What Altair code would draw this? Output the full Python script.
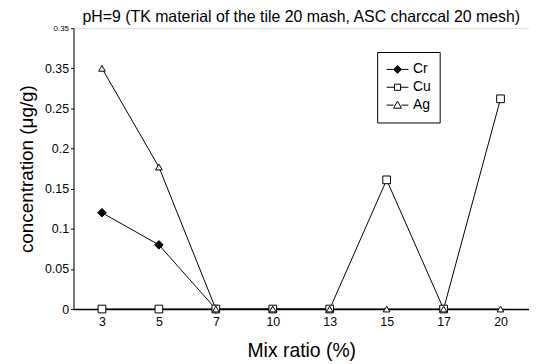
import altair as alt
import pandas as pd

mix = [3, 5, 7, 10, 13, 15, 17, 20]
cr = [0.12, 0.08, 0.0, None, None, None, None, None]
cu = [0.0, 0.0, 0.0, 0.0, 0.0, 0.161, 0.0, 0.262]
ag = [0.30, 0.177, 0.0, 0.0, 0.0, 0.0, 0.0, 0.0]
series = ["Cr", "Cu", "Ag"]
y_ticks = [0, 0.05, 0.1, 0.15, 0.2, 0.25, 0.3, 0.35]

rows = []
for name, vals in zip(series, [cr, cu, ag]):
    for i, (m, v) in enumerate(zip(mix, vals)):
        if v is not None:
            rows.append({"mix": str(m), "order": i, "metal": name, "conc": v})
df = pd.DataFrame(rows)

FONT = "Liberation Sans"
xenc = alt.X("mix:O", sort=[str(m) for m in mix],
             scale=alt.Scale(type="point", padding=0.5),
             axis=alt.Axis(title="Mix ratio (%)", labelAngle=0, ticks=False,
                           labelFontSize=12.5, titleFontSize=19.5, labelPadding=7,
                           titlePadding=13, titleFontWeight="normal",
                           labelFont=FONT, titleFont=FONT, labelColor="black",
                           titleColor="black", domainColor="black", domainWidth=1.5))
yenc = alt.Y("conc:Q", scale=alt.Scale(domain=[0, 0.35], nice=False),
             axis=alt.Axis(title="concentration (μg/g)", values=y_ticks, grid=False, format="~g",
                           labelExpr="abs(datum.value-0.3)<0.001 ? '0.35' : datum.label",
                           labelFontSize={"condition": {"test": "datum.value > 0.34", "value": 8}, "value": 12.5},
                           tickSize=3, labelPadding=2, titleFontSize=19, titlePadding=8,
                           titleFontWeight="normal", labelFont=FONT, titleFont=FONT,
                           labelColor="black", titleColor="black", domainColor="black",
                           tickColor="black"))

lines = alt.Chart(df).mark_line(color="black", strokeWidth=1).encode(
    x=xenc, y=yenc, detail="metal:N", order="order:Q")

pts = alt.Chart(df).mark_point(filled=False, stroke="black", strokeWidth=1, opacity=1).encode(
    x=xenc, y=yenc,
    shape=alt.Shape("metal:N", scale=alt.Scale(domain=series, range=["diamond", "square", "triangle-up"]), legend=None),
    fill=alt.Fill("metal:N", scale=alt.Scale(domain=series, range=["black", "white", "white"]), legend=None),
    size=alt.Size("metal:N", scale=alt.Scale(domain=series, range=[75, 45, 80]), legend=None),
)

paths = [
    "M-1,0H-0.36M0.36,0H1M0,-0.36L0.36,0L0,0.36L-0.36,0Z",
    "M-1,0H-0.28M0.28,0H1M-0.28,-0.28H0.28V0.28H-0.28Z",
    "M-1,0H-0.36M0.36,0H1M0,-0.36L0.36,0.28L-0.36,0.28Z",
]
legend_props = dict(title=None, orient="none", legendX=306, legendY=24,
                    symbolSize=484, symbolStrokeWidth=1, clipHeight=17,
                    labelFontSize=14, labelFont=FONT, labelColor="black",
                    rowPadding=1, padding=9, strokeColor="black",
                    fillColor="white", labelOffset=4)
leg = alt.Chart(df).transform_filter("false").mark_point(strokeWidth=1, opacity=1).encode(
    x=xenc, y=yenc,
    shape=alt.Shape("metal:N", scale=alt.Scale(domain=series, range=paths),
                    legend=alt.Legend(**legend_props)),
    fill=alt.Fill("metal:N", scale=alt.Scale(domain=series, range=["black", "white", "white"]),
                  legend=alt.Legend(**legend_props)),
    stroke=alt.Stroke("metal:N", scale=alt.Scale(domain=series, range=["black", "black", "black"]),
                      legend=alt.Legend(**legend_props)),
)

chart = alt.layer(lines, pts, leg).resolve_scale(
    shape="independent", fill="independent", size="independent", stroke="independent"
).properties(
    width=459, height=283,
    padding={"left": 9, "top": 0, "right": 0, "bottom": 0},
    title=alt.TitleParams("pH=9 (TK material of the tile 20 mash, ASC charccal 20 mesh)",
                          fontSize=16, font=FONT, fontWeight="normal", color="black",
                          anchor="middle", offset=-1),
).configure_view(stroke=None).configure(background="white")

chart.save("out.html", embed_options={"renderer": "svg", "actions": False})
